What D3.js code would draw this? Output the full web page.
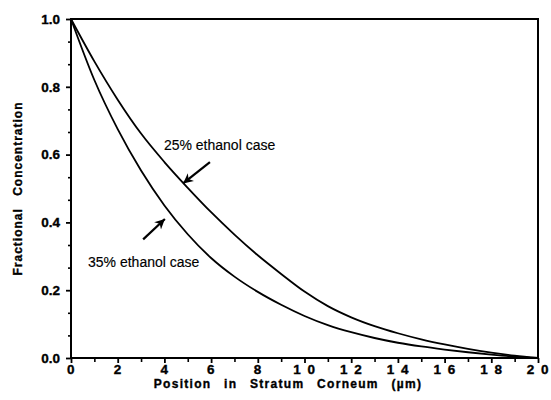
<!DOCTYPE html>
<html>
<head>
<meta charset="utf-8">
<script src="https://cdn.jsdelivr.net/npm/d3@7/dist/d3.min.js"></script>
<style>
  html, body { margin: 0; padding: 0; background: #fff; }
  svg { display: block; }
  text { font-family: "Liberation Sans", Arial, Helvetica, sans-serif; fill: #000; }
</style>
</head>
<body>
<svg id="chart" width="551" height="400"></svg>
<script>
// Position across the stratum corneum (µm)
const positions = [0, 1, 2, 3, 4, 5, 6, 7, 8, 9, 10, 11, 12, 13, 14, 15, 16, 17, 18, 19, 20];
// Fractional concentration profiles
const ethanol25 = [1.0, 0.875, 0.762, 0.662, 0.578, 0.502, 0.43, 0.364, 0.303, 0.248, 0.196, 0.153, 0.12, 0.094, 0.073, 0.055, 0.04, 0.027, 0.016, 0.007, 0.0];
const ethanol35 = [1.0, 0.82, 0.675, 0.553, 0.45, 0.365, 0.295, 0.24, 0.195, 0.157, 0.124, 0.097, 0.076, 0.059, 0.045, 0.034, 0.025, 0.017, 0.01, 0.004, 0.0];

const xTicks = [0, 2, 4, 6, 8, 10, 12, 14, 16, 18, 20];
const xMinorTicks = [1, 3, 5, 7, 9, 11, 13, 15, 17, 19];
const yTicks = [0.0, 0.2, 0.4, 0.6, 0.8, 1.0];
const yMinorTicks = d3.range(0, 15).map(i => i / 15).filter(v => Math.abs(v * 5 - Math.round(v * 5)) > 1e-6);

// Curve labels and their pointer arrows, in data units
const labels = [
  { text: "25% ethanol case", x: 3.98, y: 0.614 },
  { text: "35% ethanol case", x: 0.73, y: 0.268 }
];
const arrows = [
  { x1: 5.95, y1: 0.578, x2: 4.80, y2: 0.515 },
  { x1: 3.09, y1: 0.350, x2: 4.02, y2: 0.410 }
];

const svg = d3.select("#chart");
const plotLeft = 71, plotRight = 538, plotTop = 19, plotBottom = 358;

const x = d3.scaleLinear().domain([0, 20]).range([plotLeft, plotRight]);
const y = d3.scaleLinear().domain([0, 1]).range([plotBottom, plotTop]);

// Heavy bold lettering used on the axes
const heavy = sel => sel
  .attr("font-family", "Liberation Sans, Arial, sans-serif")
  .attr("font-weight", "bold")
  .attr("fill", "#000")
  .attr("stroke", "#000")
  .attr("stroke-width", 0.35);

// Minor ticks
svg.append("g")
  .attr("transform", `translate(0,${plotBottom})`)
  .call(d3.axisBottom(x).tickValues(xMinorTicks).tickSize(4).tickFormat(""))
  .call(g => g.select(".domain").remove())
  .call(g => g.selectAll("line").attr("stroke-width", 1.6));
svg.append("g")
  .attr("transform", `translate(${plotLeft},0)`)
  .call(d3.axisLeft(y).tickValues(yMinorTicks).tickSize(3).tickFormat(""))
  .call(g => g.select(".domain").remove())
  .call(g => g.selectAll("line").attr("stroke-width", 1.6));

// Major x axis
const fmtX = d => String(d).split("").join(" ");
svg.append("g")
  .attr("transform", `translate(0,${plotBottom})`)
  .call(d3.axisBottom(x).tickValues(xTicks).tickSize(5).tickPadding(1).tickFormat(fmtX))
  .call(g => g.select(".domain").remove())
  .call(g => g.selectAll("line").attr("stroke-width", 1.8))
  .call(g => g.selectAll("text").call(heavy)
    .attr("font-size", 13.5)
    .style("letter-spacing", "1.5px"));

// Major y axis
svg.append("g")
  .attr("transform", `translate(${plotLeft},0)`)
  .call(d3.axisLeft(y).tickValues(yTicks).tickSize(5).tickPadding(6).tickFormat(d3.format(".1f")))
  .call(g => g.select(".domain").remove())
  .call(g => g.selectAll("line").attr("stroke-width", 1.8))
  .call(g => g.selectAll("text").call(heavy)
    .attr("font-size", 13.5));

// Frame
svg.append("rect")
  .attr("x", plotLeft).attr("y", plotTop)
  .attr("width", plotRight - plotLeft).attr("height", plotBottom - plotTop)
  .attr("fill", "none").attr("stroke", "#000").attr("stroke-width", 2);

// Concentration curves
const line = d3.line().curve(d3.curveMonotoneX);
[ethanol25, ethanol35].forEach(vals => {
  svg.append("path")
    .attr("d", line(positions.map((p, i) => [x(p), y(vals[i])])))
    .attr("fill", "none").attr("stroke", "#000").attr("stroke-width", 1.8);
});

// Arrowhead marker
svg.append("defs").append("marker")
  .attr("id", "head")
  .attr("viewBox", "-10 -6 12 12")
  .attr("refX", 0).attr("refY", 0)
  .attr("markerWidth", 12).attr("markerHeight", 12)
  .attr("markerUnits", "userSpaceOnUse")
  .attr("orient", "auto")
  .append("path")
  .attr("d", "M0,0 L-10,-5 L-7,0 L-10,5 Z")
  .attr("fill", "#000");

svg.selectAll(".pointer").data(arrows).enter().append("line")
  .attr("class", "pointer")
  .attr("x1", d => x(d.x1)).attr("y1", d => y(d.y1))
  .attr("x2", d => x(d.x2)).attr("y2", d => y(d.y2))
  .attr("stroke", "#000").attr("stroke-width", 2.2)
  .attr("marker-end", "url(#head)");

svg.selectAll(".curve-label").data(labels).enter().append("text")
  .attr("class", "curve-label")
  .attr("x", d => x(d.x)).attr("y", d => y(d.y))
  .attr("font-size", 14)
  .attr("stroke", "#000").attr("stroke-width", 0.15)
  .text(d => d.text);

// Axis titles
svg.append("text")
  .attr("x", 288).attr("y", 388)
  .attr("text-anchor", "middle")
  .attr("font-size", 12)
  .call(heavy)
  .style("letter-spacing", "1.3px").style("word-spacing", "8px")
  .text("Position in Stratum Corneum (\u00b5m)");

svg.append("text")
  .attr("transform", `translate(22,${(plotTop + plotBottom) / 2}) rotate(-90)`)
  .attr("text-anchor", "middle")
  .attr("font-size", 12)
  .call(heavy)
  .style("letter-spacing", "1px").style("word-spacing", "8px")
  .text("Fractional Concentration");
</script>
</body>
</html>
